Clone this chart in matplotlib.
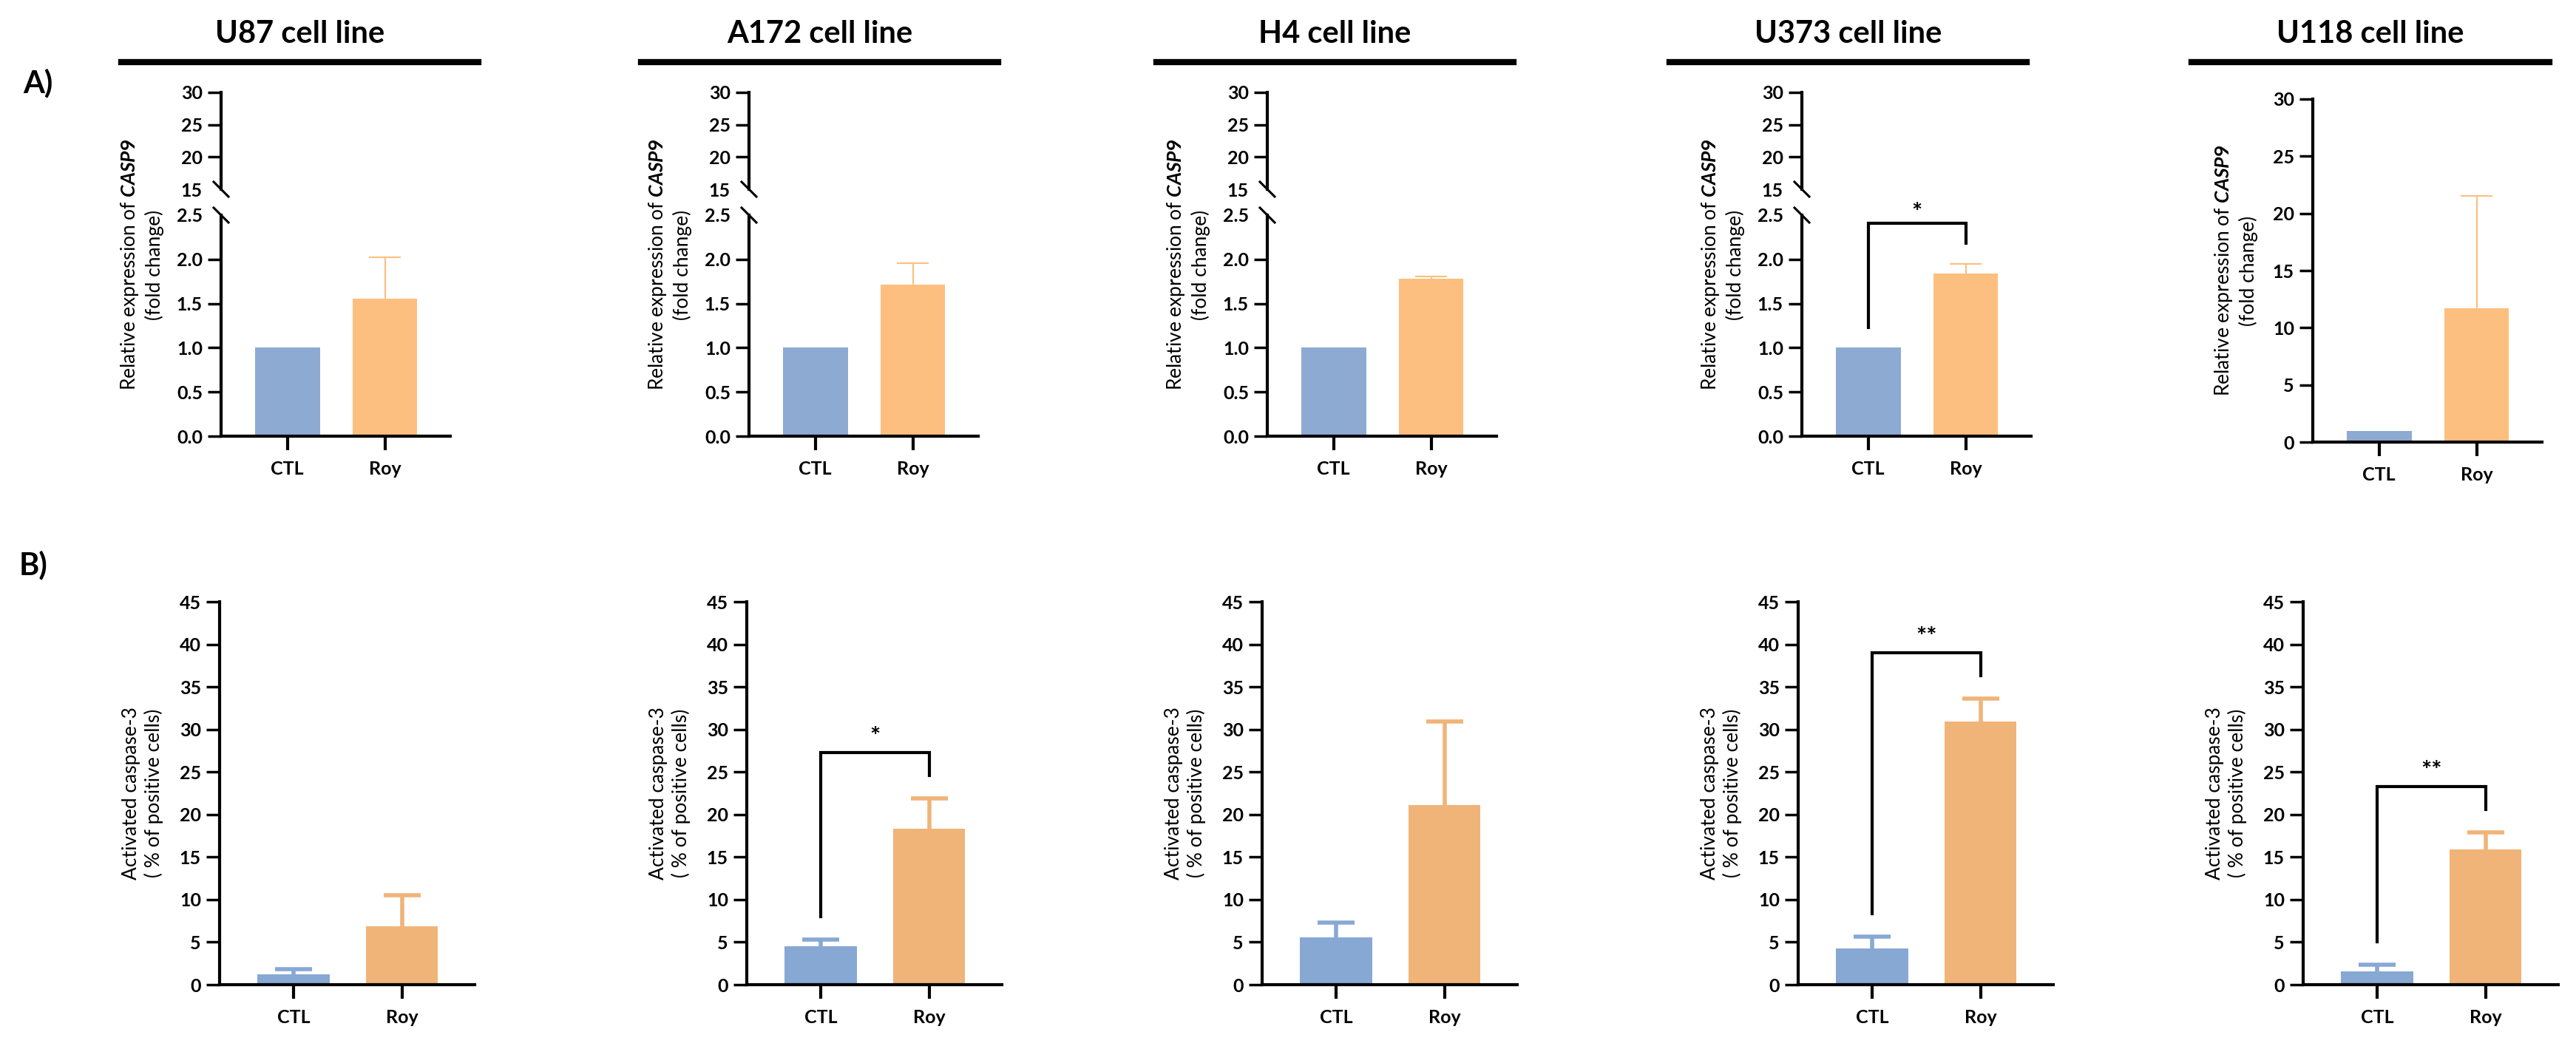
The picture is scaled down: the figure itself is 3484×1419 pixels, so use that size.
import numpy as np
import matplotlib
matplotlib.use("Agg")
import matplotlib.pyplot as plt
from matplotlib.lines import Line2D

plt.rcParams['font.family'] = ['Lato', 'DejaVu Sans']
plt.rcParams['font.weight'] = 'bold'
plt.rcParams['mathtext.fontset'] = 'custom'
plt.rcParams['mathtext.it'] = 'Lato:italic:bold'
plt.rcParams['mathtext.rm'] = 'Lato:bold'

# data
cells = ["U87", "A172", "H4", "U373", "U118"]
groups = ["CTL", "Roy"]

casp9_mean = [[1.0, 1.555], [1.0, 1.71], [1.0, 1.785], [1.0, 1.84], [1.0, 11.7]]
casp9_err = [[0.0, 0.47], [0.0, 0.25], [0.0, 0.02], [0.0, 0.11], [0.0, 9.8]]
casp9_sig = ["", "", "", "*", ""]

casp3_mean = [[1.2, 6.9], [4.5, 18.3], [5.6, 21.1], [4.3, 30.9], [1.55, 15.9]]
casp3_err = [[0.6, 3.6], [0.8, 3.6], [1.7, 9.8], [1.35, 2.7], [0.8, 2.0]]
casp3_sig = ["", "*", "", "**", "**"]

top_colors = ["#8DAAD3", "#FDBF7F"]
bot_colors = ["#88A8D4", "#F0B479"]

W, H = 3484, 1419
fig = plt.figure(figsize=(W / 100, H / 100), dpi=100)


def rect(left, top, width, height):
    return [left / W, 1 - (top + height) / H, width / W, height / H]


def style(ax, xaxis=True):
    for s in ['top', 'right']:
        ax.spines[s].set_visible(False)
    ax.spines['left'].set_linewidth(3)
    ax.spines['bottom'].set_linewidth(3)
    ax.tick_params(axis='y', length=13, width=2.5, labelsize=18, pad=5)
    ax.tick_params(axis='x', length=14, width=3, labelsize=18, pad=10)
    ax.set_xlim(-0.68, 1.67)
    if xaxis:
        ax.set_xticks(range(len(groups)))
        ax.set_xticklabels(groups)
    else:
        ax.spines['bottom'].set_visible(False)
        ax.set_xticks([])


def bars(ax, mean, err, colors, elw, cap):
    x = np.arange(len(groups))
    ax.bar(x, mean, width=0.665, color=colors, zorder=2)
    # one-sided (upper) error bars
    for i in range(len(groups)):
        if err[i] > 0:
            top = mean[i] + err[i]
            ax.vlines(x[i], mean[i], top, color=colors[i], lw=elw, zorder=1)
            ax.hlines(top, x[i] - cap, x[i] + cap, color=colors[i], lw=elw, zorder=1)


def bracket(ax, mean, err, label, gap, off, fs):
    tops = [m + e for m, e in zip(mean, err)]
    y_left = tops[0] + gap
    y_right = tops[1] + gap
    y_top = max(tops) + 2 * gap
    ax.plot([0, 0, 1, 1], [y_left, y_top, y_top, y_right], color='black',
            lw=3, clip_on=False, solid_joinstyle='miter', zorder=3)
    ax.annotate(label, (0.5, y_top), xytext=(0, off), textcoords='offset points',
                ha='center', va='baseline', fontsize=fs, clip_on=False)


top_left = [299, 1013, 1714, 2437, 3128]
bot_left = [297, 1010, 1707, 2432, 3115]
title_lines = [(164, 647), (867, 1350), (1564, 2047), (2258, 2741), (2964, 3448)]

ylab_top = 'Relative expression of $\\it{CASP9}$\n(fold change)'
ylab_bot = 'Activated caspase-3\n( % of positive cells)'

for k, cell in enumerate(cells):
    # column titles
    x0, x1 = title_lines[k]
    fig.add_artist(Line2D([x0 / W, x1 / W], [1 - 84 / H, 1 - 84 / H],
                          transform=fig.transFigure, color='black', lw=6))
    fig.text((x0 + x1) / 2 / W, 1 - 46 / H, cell + " cell line", ha='center',
             va='center', fontsize=30, fontweight='bold')

    # A) CASP9 expression
    if cell == "U118":
        ax = fig.add_axes(rect(top_left[k], 134, 310, 464))
        bars(ax, casp9_mean[k], casp9_err[k], top_colors, 1.5, 0.165)
        style(ax)
        ax.set_ylim(0, 30)
        ax.set_yticks(np.arange(0, 31, 5))
        ax.set_ylabel(ylab_top, fontsize=19, linespacing=1.25)
        ax.yaxis.set_label_coords(-0.24, 0.5)
    else:
        ax_hi = fig.add_axes(rect(top_left[k], 125, 310, 131))
        ax_lo = fig.add_axes(rect(top_left[k], 291, 310, 299))
        for ax in (ax_hi, ax_lo):
            bars(ax, casp9_mean[k], casp9_err[k], top_colors, 1.5, 0.165)
        style(ax_hi, xaxis=False)
        style(ax_lo)
        ax_hi.set_ylim(15, 30)
        ax_hi.set_yticks([15, 20, 25, 30])
        ax_lo.set_ylim(0, 2.5)
        ax_lo.set_yticks(np.arange(0, 2.51, 0.5))
        ax_lo.yaxis.set_major_formatter(plt.FormatStrFormatter('%.1f'))
        ax_hi.yaxis.get_major_ticks()[0].tick1line.set_visible(False)
        ax_lo.yaxis.get_major_ticks()[-1].tick1line.set_visible(False)
        # break marks
        dx = 10 / 310
        ax_hi.plot([-dx, dx], [10 / 131, -10 / 131], transform=ax_hi.transAxes,
                   color='black', lw=2.2, clip_on=False)
        ax_lo.plot([-dx, dx], [1 + 10 / 299, 1 - 10 / 299], transform=ax_lo.transAxes,
                   color='black', lw=2.2, clip_on=False)
        ax_lo.set_ylabel(ylab_top, fontsize=19, linespacing=1.25)
        ax_lo.yaxis.set_label_coords(-0.25, 0.776)
        if casp9_sig[k]:
            bracket(ax_lo, casp9_mean[k], casp9_err[k], casp9_sig[k], 0.23, 3, 24)

    # B) activated caspase-3
    ax = fig.add_axes(rect(bot_left[k], 814, 345, 518))
    bars(ax, casp3_mean[k], casp3_err[k], bot_colors, 4, 0.17)
    style(ax)
    ax.set_ylim(0, 45)
    ax.set_yticks(np.arange(0, 46, 5))
    ax.set_ylabel(ylab_bot, fontsize=19, linespacing=1.25)
    ax.yaxis.set_label_coords(-0.22, 0.5)
    if casp3_sig[k]:
        bracket(ax, casp3_mean[k], casp3_err[k], casp3_sig[k], 2.7, 8, 24)

fig.text(31 / W, 1 - 112 / H, "A)", ha='left', va='center', fontsize=30, fontweight='bold')
fig.text(26 / W, 1 - 764 / H, "B)", ha='left', va='center', fontsize=30, fontweight='bold')

fig.savefig("out.png", dpi=100, facecolor='white')
